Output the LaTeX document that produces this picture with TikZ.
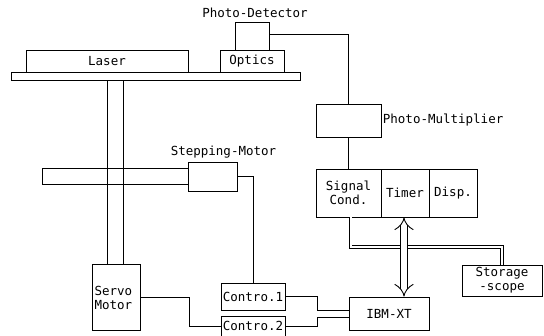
\documentclass[tikz,border=0pt]{standalone}
\usepackage{fontspec}
\setmonofont{DejaVu Sans Mono}
\usetikzlibrary{arrows.meta}
\begin{document}
\begin{tikzpicture}[x=1pt,y=-1pt,line width=0.9pt,
    font=\ttfamily\fontsize{12.5}{14}\selectfont,
    blk/.style n args={2}{draw,inner sep=0pt,minimum width=#1,minimum height=#2}]
  \useasboundingbox (0,0) rectangle (544,336);
  \node[blk={289pt}{8pt}] (plate) at (155.5,76) {};
  \node[blk={162pt}{22pt}] (laser) at (107,61) {Laser};
  \node[blk={64pt}{22pt}] (optics) at (252,61) {Optics};
  \node[blk={34pt}{28pt},label={[xshift=3pt]above:Photo-Detector}] (detector) at (252,36) {};
  \node[blk={65pt}{33pt},label={[inner sep=1pt]right:Photo-Multiplier}] (pm) at (348.5,120.5) {};
  \node[blk={65pt}{48pt},align=center] (signal) at (348.5,193) {Signal\\Cond.};
  \node[blk={48pt}{48pt}] (timer) at (405,193) {Timer};
  \node[blk={48pt}{48pt}] (disp) at (453,193) {Disp.};
  \node[blk={80pt}{31pt},align=center] (scope) at (502,280.5) {Storage\\-scope};
  \node[blk={80pt}{33pt}] (ibm) at (389,313.5) {IBM-XT};
  \node[blk={64pt}{27pt}] (ctrlA) at (253,296.5) {Contro.1};
  \node[blk={64pt}{20pt}] (ctrlB) at (253,326) {Contro.2};
  \node[blk={48pt}{66pt},text width=44pt,align=left] (servo) at (116.5,297.5) {Servo\\Motor};
  \node[blk={49pt}{29pt},label={[xshift=11pt]above:Stepping-Motor}] (stepper) at (212.5,176.5) {};
  \draw ([xshift=-9.5pt]servo.north) -- ([xshift=-9.5pt]servo.north |- plate.south);
  \draw ([xshift=6.5pt]servo.north) -- ([xshift=6.5pt]servo.north |- plate.south);
  \draw ([yshift=8pt]stepper.west) -- ++(-145,0) -- ++(0,16) -- ([yshift=-8pt]stepper.west);
  \draw ([yshift=2pt]detector.east) -| (pm.north);
  \draw (pm.south) -- (signal.north);
  \draw (stepper.east) -| (ctrlA.north);
  \draw (servo.east) -- ++(48,0) |- (ctrlB.west);
  \draw (ctrlA.east) -- ++(32,0) |- ([yshift=3.5pt]ibm.west);
  \draw (ctrlB.east) -- ++(32,0) |- ([yshift=-3.5pt]ibm.west);
  \draw[double,double distance=2pt] ([xshift=2pt]signal.south) -- ++(0,29.5) -| (scope.north);
  \draw[double,double distance=6pt,{Implies}-{Implies}] ([xshift=-1pt]timer.south) -- ([xshift=-1pt]timer.south |- ibm.north);
\end{tikzpicture}
\end{document}
